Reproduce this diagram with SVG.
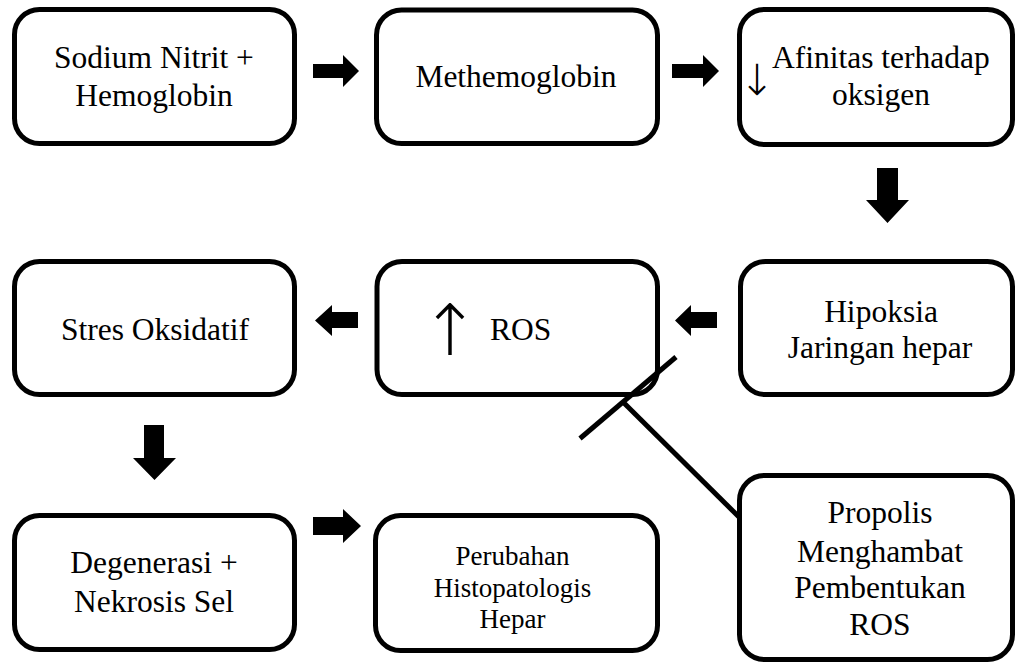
<svg xmlns="http://www.w3.org/2000/svg" width="1016" height="664" viewBox="0 0 1016 664">
<style>
.box{fill:#fff;stroke:#000;stroke-width:5}
.t{font-family:"Liberation Serif","Times New Roman",serif;font-size:31.5px;fill:#000;text-anchor:middle}
.s{font-size:27px}
.g{font-family:"DejaVu Sans ExtraLight","DejaVu Sans",sans-serif;font-weight:200;fill:#000;text-anchor:middle}
.arr{fill:#000;stroke:none}
.ln{stroke:#000;stroke-width:5;fill:none}
</style>
<rect width="1016" height="664" fill="#fff"/>
<g id="connectors">
<polygon class="arr" points="313,64 343,64 343,55 359,71 343,87 343,78 313,78"/>
<polygon class="arr" points="672,64 703,64 703,55 719,71 703,87 703,78 672,78"/>
<polygon class="arr" points="877,168 898,168 898,200 909,200 887.5,223 866,200 877,200"/>
<polygon class="arr" points="717,312 691,312 691,305 675,320.5 691,336 691,328 717,328"/>
<polygon class="arr" points="358,312 332,312 332,305 315,320.5 332,336 332,328 358,328"/>
<polygon class="arr" points="144,425 164,425 164,458 176,458 154.5,480 133,458 144,458"/>
<polygon class="arr" points="313,517 343,517 343,509 361,526 343,543 343,535 313,535"/>
</g>
<g id="n1"><rect class="box" x="14.5" y="9.5" width="280" height="134" rx="25"/>
<text class="t" x="154" y="68">Sodium Nitrit +</text><text class="t" x="154" y="106">Hemoglobin</text></g>
<g id="n2"><rect class="box" x="376.5" y="10" width="281" height="133.5" rx="25"/>
<text class="t" x="516" y="87">Methemoglobin</text></g>
<g id="n3"><rect class="box" x="739.5" y="9.5" width="273" height="135" rx="25"/>
<text class="g" x="757" y="95" style="font-size:43px">↓</text>
<text class="t" x="772" y="68" style="text-anchor:start">Afinitas terhadap</text>
<text class="t" x="881" y="105">oksigen</text></g>
<g id="n4"><rect class="box" x="740.5" y="261.5" width="272" height="133" rx="25"/>
<text class="t" x="881" y="322">Hipoksia</text><text class="t" x="880" y="358">Jaringan hepar</text></g>
<g id="n5"><rect class="box" x="377" y="261.5" width="280.5" height="133" rx="25"/>
<text class="g" x="450" y="355" style="font-size:71px">↑</text>
<text class="t" x="490" y="340" style="text-anchor:start">ROS</text></g>
<g id="n6"><rect class="box" x="14.5" y="261.5" width="280" height="133" rx="25"/>
<text class="t" x="155" y="340">Stres Oksidatif</text></g>
<g id="n7"><rect class="box" x="14.5" y="515.5" width="280" height="134" rx="25"/>
<text class="t" x="154" y="573">Degenerasi +</text><text class="t" x="154" y="612">Nekrosis Sel</text></g>
<g id="n8"><rect class="box" x="375.5" y="515.5" width="282" height="135" rx="25"/>
<text class="t s" x="512.5" y="565">Perubahan</text><text class="t s" x="512.5" y="597">Histopatologis</text><text class="t s" x="512.5" y="628">Hepar</text></g>
<g id="inhibit">
<line class="ln" x1="676" y1="357" x2="580" y2="438.5"/>
<line class="ln" x1="623" y1="402" x2="740" y2="518"/>
</g>
<g id="n9"><rect class="box" x="739.5" y="475.5" width="273" height="184" rx="25"/>
<text class="t" x="880" y="523">Propolis</text><text class="t" x="880" y="562">Menghambat</text><text class="t" x="880" y="598">Pembentukan</text><text class="t" x="880" y="635">ROS</text></g>
</svg>
